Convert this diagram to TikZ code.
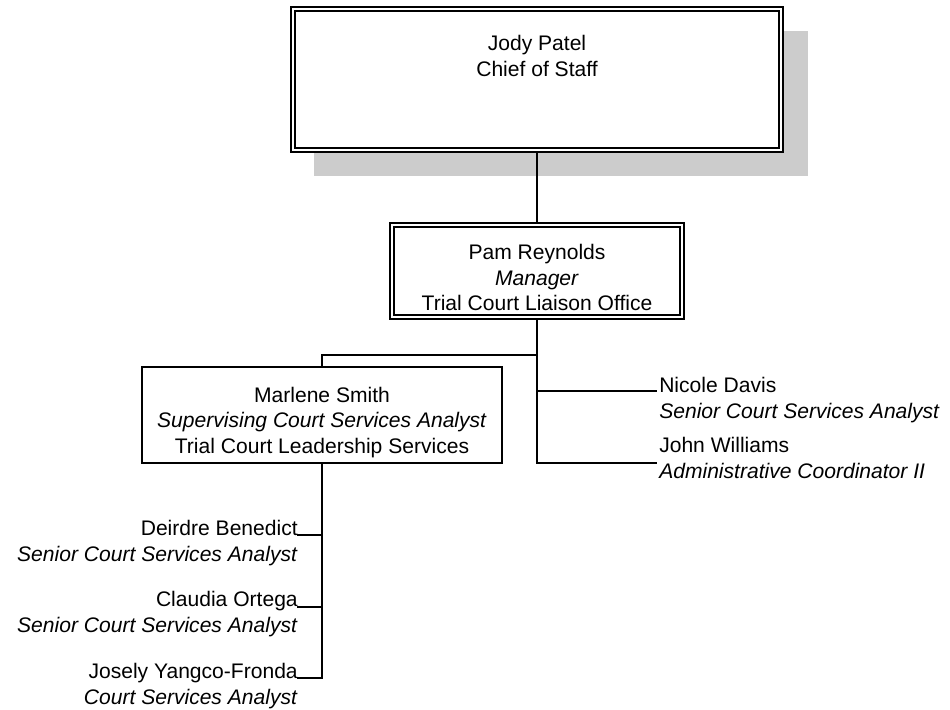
\documentclass[tikz,border=0pt]{standalone}
\usepackage{fontspec}
\setmainfont{Liberation Sans}
\definecolor{shadowgray}{HTML}{CCCCCC}
\begin{document}
\begin{tikzpicture}[x=0.75pt,y=-0.75pt,
  font=\fontsize{15.8pt}{19.4pt}\selectfont,
  outerbox/.style={draw, line width=0.8pt, fill=white, inner sep=0pt},
  singlebox/.style={draw, line width=1.1pt, fill=white, inner sep=0pt},
  innerline/.style={line width=1.5pt},
  conn/.style={line width=1.1pt},
  txt/.style={inner sep=0pt}]
\useasboundingbox (0,0) rectangle (950,710);
% shadow
\fill[shadowgray] (314,31) rectangle (808,176);
% boxes
\node[outerbox, minimum width=369pt, minimum height=108.75pt] (jody) at (537,79.5) {};
\draw[innerline] ([shift={(5,5)}]jody.north west) rectangle ([shift={(-5,-5)}]jody.south east);
\node[outerbox, minimum width=220.5pt, minimum height=72pt] (pam) at (537,271) {};
\draw[innerline] ([shift={(4.5,4.5)}]pam.north west) rectangle ([shift={(-4.5,-4.5)}]pam.south east);
\node[singlebox, minimum width=270pt, minimum height=72pt] (marlene) at (322,415) {};
% texts
\node[txt, align=center] (jodytext) at (537,56) {Jody Patel\\Chief of Staff};
\node[txt, align=center] (pamtext) at (537,277.5) {Pam Reynolds\\\textit{Manager}\\Trial Court Liaison Office};
\node[txt, align=center] (marlenetext) at (322,422.5) {Marlene Smith\\\textit{Supervising Court Services Analyst}\\Trial Court Leadership Services};
\node[txt, align=left, anchor=west] (nicole) at (659,400) {Nicole Davis\\\textit{Senior Court Services Analyst}};
\node[txt, align=left, anchor=west] (john) at (659,458) {John Williams\\\textit{Administrative Coordinator II}};
\node[txt, align=right, anchor=east] (deirdre) at (298,543) {Deirdre Benedict\\\textit{Senior Court Services Analyst}};
\node[txt, align=right, anchor=east] (claudia) at (298,614) {Claudia Ortega\\\textit{Senior Court Services Analyst}};
\node[txt, align=right, anchor=east] (josely) at (298,686) {Josely Yangco-Fronda\\\textit{Court Services Analyst}};
% connector end points
\coordinate (mbranch) at (537,355);
\coordinate (nicolept) at (657,391);
\coordinate (johnpt) at (657,463);
\coordinate (deirpt) at (297,535);
\coordinate (claupt) at (297,607);
\coordinate (josept) at (297,678);
% connectors
\draw[conn] (jody.south) -- (pam.north);
\draw[conn] (pam.south) -- (pam.south |- johnpt) -- (johnpt);
\draw[conn] (pam.south |- mbranch) -| (marlene.north);
\draw[conn] (pam.south |- nicolept) -- (nicolept);
\draw[conn] (marlene.south) -- (marlene.south |- josept) -- (josept);
\draw[conn] (marlene.south |- deirpt) -- (deirpt);
\draw[conn] (marlene.south |- claupt) -- (claupt);
\end{tikzpicture}
\end{document}
